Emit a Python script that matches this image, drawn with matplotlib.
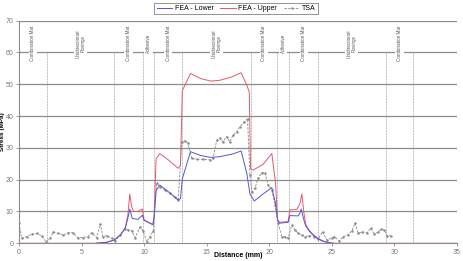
import matplotlib
matplotlib.use("Agg")
import matplotlib.pyplot as plt

plt.rcParams['font.family'] = ['Liberation Sans', 'DejaVu Sans']

# FEA - Upper
upper_x = [0, 6.0, 7.0, 7.6, 8.1, 8.5, 8.7, 8.85, 9.0, 9.15, 9.5, 9.85, 10.0, 10.3, 10.7, 10.8,
           10.95, 11.25, 12.0, 12.7, 12.9, 13.05, 13.7, 14.5, 15.3, 16.0, 17.0, 17.75, 18.2, 18.4,
           18.5, 18.7, 19.5, 20.2, 20.5, 20.65, 20.8, 21.5, 21.65, 22.2, 22.45, 22.6, 22.75, 22.9,
           23.2, 23.5, 23.9, 24.3, 24.8, 25.3, 35]
upper_y = [0, 0, 0.3, 1.0, 2.6, 5.0, 9.0, 15.5, 11.5, 10.0, 10.0, 10.8, 7.3, 6.7, 5.9, 9.0,
           26.5, 28.2, 26.0, 23.6, 24.5, 48.0, 53.4, 51.8, 51.0, 51.2, 52.3, 53.6, 49.7, 47.5,
           23.5, 23.0, 24.8, 28.2, 19.0, 7.5, 6.6, 6.8, 10.5, 10.6, 12.5, 15.5, 10.0, 6.0,
           4.0, 2.7, 1.5, 0.7, 0.2, 0, 0]

# FEA - Lower
lower_x = [6.2, 7.0, 7.6, 8.1, 8.5, 8.7, 8.85, 9.05, 9.5, 9.85, 10.0, 10.3, 10.7, 10.8,
           10.95, 11.25, 12.0, 12.7, 12.9, 13.05, 13.7, 14.5, 15.3, 16.0, 17.0, 17.75, 18.2, 18.45,
           18.8, 19.5, 20.2, 20.5, 20.65, 20.8, 21.5, 21.65, 22.3, 22.45, 22.55, 22.75, 22.9,
           23.2, 23.5, 23.9, 24.3, 24.8, 25.1]
lower_y = [0, 0.3, 1.0, 2.6, 4.8, 8.0, 10.7, 7.8, 7.5, 8.8, 7.2, 6.6, 5.8, 8.5,
           16.5, 18.3, 16.0, 13.6, 14.0, 20.3, 28.8, 27.6, 27.0, 27.2, 28.0, 29.0, 22.0, 15.5,
           13.3, 15.5, 17.5, 12.5, 7.5, 6.3, 6.6, 8.7, 8.6, 9.5, 10.8, 7.5, 5.5,
           3.8, 2.6, 1.4, 0.6, 0.1, 0]

# TSA
tsa_x = [0, 0.2, 0.6, 1.0, 1.4, 1.8, 2.15, 2.5, 2.75, 3.1, 3.55, 3.9, 4.3, 4.7, 5.1, 5.5, 5.8,
         6.2, 6.5, 6.7, 7.0, 7.4, 7.7, 8.07, 8.5, 8.73, 9.0, 9.27, 9.66, 9.9, 10.2, 10.46, 10.73,
         11.0, 11.26, 11.66, 12.06, 12.46, 12.72, 13.0, 13.26, 13.5, 13.8, 14.2, 14.7, 15.25,
         15.5, 15.8, 16.05, 16.3, 16.6, 16.85, 17.1, 17.4, 17.65, 18.0, 18.26, 18.45, 18.6, 18.85,
         19.1, 19.4, 19.65, 19.9, 20.2, 20.45, 20.7, 21.0, 21.25, 21.5, 21.8, 22.05, 22.3, 22.6,
         22.85, 23.2, 23.6, 23.9, 24.25, 24.6, 25.0, 25.2, 25.6, 25.9, 26.25, 26.6, 26.85, 27.1,
         27.4, 27.8, 28.1, 28.4, 28.7, 28.95, 29.2, 29.4, 29.75]
tsa_y = [6.3, 1.6, 2.1, 2.8, 3.1, 2.4, 0.5, 1.6, 3.6, 3.1, 2.6, 3.3, 3.3, 1.8, 1.8, 2.1, 3.3,
         1.8, 6.1, 2.1, 2.4, 1.6, 0.8, 2.6, 4.6, 4.2, 4.0, 1.8, 5.0, 4.0, 0.5, 2.0, 4.0,
         18.8, 17.8, 16.7, 15.7, 14.6, 13.6, 31.9, 32.2, 31.4, 26.7, 26.4, 26.4, 26.2,
         26.7, 32.4, 33.0, 31.9, 33.5, 31.9, 34.0, 35.0, 36.6, 38.2, 39.2, 21.4, 16.2, 17.3,
         20.4, 22.2, 22.2, 18.3, 16.7, 12.0, 6.3, 2.1, 2.1, 1.6, 5.7, 4.2, 3.1, 2.6,
         2.1, 2.4, 2.1, 1.3, 3.6, 1.0, 1.6, 2.1, 0.7, 2.1, 2.6, 3.9, 6.3, 3.1,
         3.6, 3.3, 4.7, 2.9, 3.6, 4.4, 4.2, 2.4, 2.3]

# laminate regions
bounds = [0, 2.2, 7.6, 9.9, 10.8, 13.05, 18.5, 20.6, 21.6, 23.9, 29.3, 31.5]
regions = ["Combination Mat", "Unidirectional\nRovings", "Combination Mat", "Adhesive",
           "Combination Mat", "Unidirectional\nRovings", "Combination Mat", "Adhesive",
           "Combination Mat", "Unidirectional\nRovings", "Combination Mat"]

fig = plt.figure(figsize=(4.64, 2.61), dpi=100)
ax = fig.add_axes([0.041, 0.068, 0.944, 0.853])

for y in range(10, 71, 10):
    ax.axhline(y, color='#8c8c8c', lw=0.9, zorder=0)
for b in bounds[1:]:
    ax.plot([b, b], [0, 60], color='#777777', lw=0.5, ls=(0, (1, 1.2)), zorder=1)

ax.plot(lower_x, lower_y, color='#5656d6', lw=0.7, label='FEA - Lower', zorder=3)
ax.plot(upper_x, upper_y, color='#e8586a', lw=0.7, label='FEA - Upper', zorder=2)
ax.plot(tsa_x, tsa_y, color='#8a8a8a', lw=0.6, ls=(0, (3, 1.5)), marker='.', ms=1.5,
        label='TSA', zorder=2)

for i, name in enumerate(regions):
    xc = (bounds[i] + bounds[i + 1]) / 2
    ax.text(xc, 62.8, name, rotation=90, ha='center', va='center', fontsize=3.3,
            color='#555555', linespacing=0.95,
            bbox=dict(facecolor='white', edgecolor='none', pad=1.2), zorder=4)

ax.set_xlim(0, 35)
ax.set_ylim(0, 70)
ax.set_xticks(range(0, 36, 5))
ax.set_yticks(range(0, 71, 10))
ax.tick_params(labelsize=5, colors='#777777', length=2, width=0.5, pad=2)
for s in ['top', 'right']:
    ax.spines[s].set_visible(False)
for s in ['left', 'bottom']:
    ax.spines[s].set_color('#8c8c8c')
    ax.spines[s].set_linewidth(0.8)

ax.set_xlabel('Distance (mm)', fontsize=5, fontweight='bold')
ax.set_ylabel('Stress (MPa)', fontsize=4.6, fontweight='bold')
ax.xaxis.set_label_coords(0.5, -0.038)
ax.yaxis.set_label_coords(-0.031, 0.5)

leg = fig.legend(loc='center', bbox_to_anchor=(0.509, 0.967), ncol=3, fontsize=5,
                 frameon=True, fancybox=False, handlelength=2.2, columnspacing=1.0,
                 handletextpad=0.4, borderpad=0.3)
leg.get_frame().set_edgecolor('#444444')
leg.get_frame().set_linewidth(0.5)

fig.savefig('out.png', dpi=100)
